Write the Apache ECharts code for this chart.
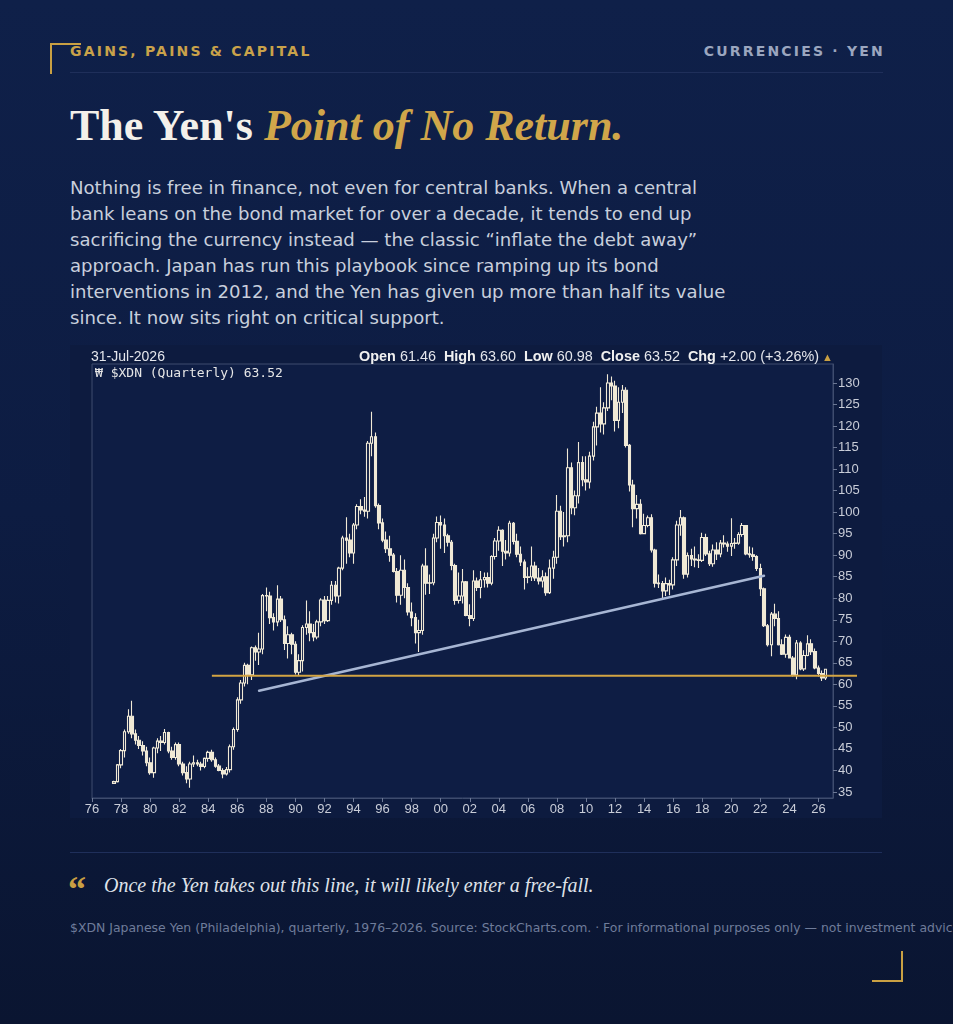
<!DOCTYPE html>
<html>
<head>
<meta charset="utf-8">
<script src="https://cdn.jsdelivr.net/npm/echarts@6.0.0/dist/echarts.min.js"></script>
<style>
  html, body { margin: 0; padding: 0; }
  body {
    width: 953px; height: 1024px; overflow: hidden; position: relative;
    background: linear-gradient(180deg, #0f2049 0%, #0d1c42 50%, #0a1531 100%);
    font-family: "DejaVu Sans", sans-serif;
  }
  .abs { position: absolute; }
  .corner-tl { left: 50px; top: 43px; width: 29px; height: 29px; border-top: 2px solid #c9a043; border-left: 2px solid #c9a043; }
  .corner-br { left: 872px; top: 951px; width: 29px; height: 29px; border-bottom: 2px solid #c9a043; border-right: 2px solid #c9a043; }
  .kicker { top: 43px; font-size: 14px; line-height: 17px; font-weight: bold; letter-spacing: 2.2px; white-space: nowrap; }
  .kicker.left { left: 70px; color: #c9a24a; }
  .kicker.right { right: 68px; color: #9ba6bf; }
  .rule { left: 70px; width: 813px; height: 1px; background: #1f2f5a; }
  .title { left: 70px; top: 104px; font-family: "Liberation Serif", serif; font-size: 44px; line-height: 44px; font-weight: bold; color: #f3f0ea; white-space: nowrap; }
  .title em { color: #d0a64a; font-style: italic; }
  .lede { left: 70px; top: 175px; font-size: 18.1px; line-height: 26px; color: #c8cfdc; white-space: nowrap; }
  #panel { left: 70px; top: 345px; width: 812px; height: 473px; background: #0d1b3f; }
  #chart { position: absolute; left: 0; top: 0; width: 812px; height: 473px; }
  .chead { font-family: "Liberation Sans", Arial, sans-serif; color: #e4e6ec; white-space: nowrap; }
  .date { left: 21px; top: 3px; font-size: 14px; line-height: 16px; }
  .ohlc { right: 49px; top: 3px; font-size: 14.4px; line-height: 16px; }
  .ohlc b { font-weight: bold; color: #f0f0f0; }
  .ohlc .g { margin-left: 8px; }
  .ohlc .tri { color: #c9a043; font-size: 11px; margin-left: 3px; }
  .legend { left: 25px; top: 20px; font-family: "DejaVu Sans Mono", monospace; font-size: 13px; line-height: 16px; color: #e6e6e6; white-space: nowrap; }
  .quote-mark { left: 68px; top: 871px; font-family: "Liberation Serif", serif; font-weight: bold; font-size: 36px; line-height: 36px; color: #c9a043; }
  .quote { left: 104px; top: 873px; font-family: "Liberation Serif", serif; font-style: italic; font-size: 20px; line-height: 24px; color: #dfe2e9; white-space: nowrap; }
  .source { left: 70px; top: 920px; font-size: 12.45px; line-height: 16px; color: #6f7c9a; white-space: nowrap; }
</style>
</head>
<body>
<div class="abs corner-tl"></div>
<div class="abs kicker left">GAINS, PAINS &amp; CAPITAL</div>
<div class="abs kicker right">CURRENCIES · YEN</div>
<div class="abs rule" style="top:72px"></div>
<div class="abs title">The Yen's <em>Point of No Return.</em></div>
<div class="abs lede">Nothing is free in finance, not even for central banks. When a central<br>bank leans on the bond market for over a decade, it tends to end up<br>sacrificing the currency instead — the classic “inflate the debt away”<br>approach. Japan has run this playbook since ramping up its bond<br>interventions in 2012, and the Yen has given up more than half its value<br>since. It now sits right on critical support.</div>

<div class="abs" id="panel">
  <div id="chart"></div>
  <div class="abs chead date">31-Jul-2026</div>
  <div class="abs chead ohlc"><b>Open</b> 61.46<span class="g"><b>High</b> 63.60</span><span class="g"><b>Low</b> 60.98</span><span class="g"><b>Close</b> 63.52</span><span class="g"><b>Chg</b> +2.00 (+3.26%)</span><span class="tri">▲</span></div>
  <div class="abs legend">₩ $XDN (Quarterly) 63.52</div>
</div>

<div class="abs rule" style="top:852px; width:812px"></div>
<div class="abs quote-mark">“</div>
<div class="abs quote">Once the Yen takes out this line, it will likely enter a free-fall.</div>
<div class="abs source">$XDN Japanese Yen (Philadelphia), quarterly, 1976–2026. Source: StockCharts.com. · For informational purposes only — not investment advice</div>
<div class="abs corner-br"></div>

<script>
// ---------- DATA ----------
const axisFirstYear = 1976;          // x axis runs 1976Q1 ...
const axisLastYear = 2027;           // ... to 2027Q1
const firstCandle = '1977Q3';        // first quarterly candle

// quarterly OHLC, 1977Q3 .. 2026Q3
const opens = [
  37.0, 37.4,                       // 1977 Q3-Q4
  41.3, 44.6, 49.0, 52.6,           // 1978
  48.5, 47.0, 45.8, 44.5,           // 1979
  41.8, 39.5, 45.2, 46.8,           // 1980
  46.5, 48.8, 44.5, 43.0,           // 1981
  46.0, 41.5, 39.5, 38.0,           // 1982
  41.5, 41.8, 41.5, 40.9,           // 1983
  42.8, 44.2, 42.5, 41.0,           // 1984
  40.0, 39.2, 40.2, 45.5,           // 1985
  49.5, 56.4, 60.3, 64.4,           // 1986
  62.2, 68.5, 67.5, 68.2,           // 1987
  80.6, 80.5, 75.5, 74.5,           // 1988
  79.8, 75.0, 69.5, 71.5,           // 1989
  69.3, 62.8, 65.5, 73.2,           // 1990
  74.0, 72.0, 71.0, 74.5,           // 1991
  79.6, 74.8, 79.5, 83.0,           // 1992
  80.5, 87.0, 94.0, 93.5,           // 1993
  90.5, 97.0, 101.3, 100.5,         // 1994
  100.2, 116.0, 117.5, 101.5,       // 1995
  97.5, 93.5, 91.5, 90.0,           // 1996
  86.2, 80.7, 86.5, 82.5,           // 1997
  76.8, 75.5, 72.0, 72.5,           // 1998
  87.5, 83.5, 83.6, 94.0,           // 1999
  97.6, 97.0, 94.5, 93.0,           // 2000
  87.6, 79.5, 80.5, 83.8,           // 2001
  76.0, 75.3, 84.0, 82.5,           // 2002
  84.3, 84.8, 83.5, 89.7,           // 2003
  93.3, 95.8, 90.9, 90.5,           // 2004
  97.4, 93.2, 90.2, 88.4,           // 2005
  84.8, 85.0, 87.5, 84.7,           // 2006
  84.0, 85.0, 81.3, 87.0,           // 2007
  89.5, 100.2, 94.3, 94.5,          // 2008
  110.3, 101.0, 103.8, 111.5,       // 2009
  107.5, 107.0, 113.0, 119.8,       // 2010
  123.0, 120.5, 124.2, 130.0,       // 2011
  129.3, 121.3, 125.5, 128.3,       // 2012
  115.5, 106.3, 100.8, 101.8,       // 2013
  95.0, 96.9, 98.7, 91.2,           // 2014
  83.5, 83.4, 81.7, 83.4,           // 2015
  83.1, 88.9, 97.0, 98.7,           // 2016
  85.6, 89.9, 89.1, 88.9,           // 2017
  88.8, 94.1, 90.3, 88.0,           // 2018
  91.2, 90.3, 92.8, 92.6,           // 2019
  92.1, 92.7, 92.8, 94.8,           // 2020
  96.9, 90.3, 90.1, 89.7,           // 2021
  86.9, 82.2, 73.6, 69.2,           // 2022
  76.3, 75.3, 69.2, 67.0,           // 2023
  70.9, 66.1, 62.2, 69.6,           // 2024
  63.6, 66.7, 69.4, 67.6,           // 2025
  63.8, 62.5, 61.46                 // 2026 Q1-Q3
];
const highs = [
  37.6, 41.5,
  45.0, 49.5, 54.2, 56.2,
  49.5, 48.0, 46.8, 45.5,
  43.0, 45.5, 47.5, 48.0,
  49.6, 49.0, 45.5, 46.5,
  46.5, 42.0, 41.0, 42.0,
  43.5, 42.5, 42.0, 43.0,
  44.6, 44.8, 43.0, 41.5,
  40.5, 40.8, 46.0, 50.0,
  57.0, 61.0, 65.0, 64.8,
  68.8, 69.0, 72.0, 81.0,
  82.5, 81.5, 76.5, 83.0,
  80.5, 76.0, 73.5, 72.0,
  70.0, 67.0, 73.7, 79.5,
  77.0, 74.0, 75.0, 80.0,
  80.5, 80.5, 84.0, 84.0,
  87.3, 94.5, 98.8, 95.0,
  97.5, 101.8, 103.0, 103.5,
  116.5, 123.3, 118.5, 102.0,
  98.5, 95.5, 94.5, 90.5,
  87.0, 90.0, 89.0, 83.5,
  79.0, 76.5, 75.0, 88.0,
  91.6, 85.5, 95.0, 99.0,
  99.2, 98.5, 95.0, 93.5,
  88.0, 86.0, 86.8, 84.0,
  78.6, 86.5, 84.8, 86.3,
  86.0, 86.0, 90.0, 94.0,
  96.7, 96.0, 93.5, 98.0,
  97.7, 95.0, 92.0, 89.0,
  87.2, 92.0, 88.5, 87.0,
  86.5, 86.0, 89.0, 91.0,
  104.0, 101.5, 100.0, 114.8,
  111.5, 105.0, 116.3, 113.0,
  113.0, 114.0, 121.0, 124.5,
  129.0, 125.5, 132.0, 131.5,
  130.5, 129.0, 129.5, 129.0,
  115.8, 107.5, 104.0, 103.0,
  99.6, 99.2, 99.5, 91.5,
  85.5, 84.0, 84.8, 84.3,
  89.5, 98.0, 100.5, 99.0,
  90.6, 91.5, 92.0, 90.2,
  95.2, 95.0, 91.0, 92.5,
  93.0, 93.5, 94.6, 93.2,
  98.6, 94.0, 95.3, 97.5,
  97.0, 92.0, 91.8, 90.0,
  88.0, 82.5, 74.0, 76.8,
  78.7, 77.0, 70.5, 71.6,
  71.5, 66.6, 70.3, 70.0,
  67.9, 71.4, 70.5, 68.3,
  64.4, 63.2, 63.60
];
const lows = [
  36.9, 37.2,
  40.5, 43.0, 48.5, 47.5,
  46.0, 45.0, 43.5, 41.0,
  39.0, 38.3, 44.0, 44.5,
  46.0, 44.0, 42.5, 42.5,
  41.0, 38.8, 37.0, 36.0,
  40.8, 41.0, 40.0, 40.5,
  42.0, 42.0, 40.6, 39.8,
  38.2, 38.8, 39.5, 44.8,
  49.0, 55.5, 59.5, 60.0,
  61.0, 65.5, 64.5, 67.0,
  77.0, 74.0, 72.5, 73.5,
  74.5, 68.0, 66.0, 67.0,
  62.3, 62.0, 63.0, 71.5,
  70.0, 70.0, 70.5, 73.5,
  74.0, 74.5, 78.5, 79.0,
  78.8, 86.5, 88.0, 89.5,
  88.0, 96.0, 99.5, 98.9,
  98.5, 113.0, 101.0, 96.0,
  93.0, 90.5, 88.5, 86.0,
  79.0, 78.5, 80.0, 76.0,
  73.5, 69.5, 67.5, 71.5,
  80.8, 81.0, 83.0, 93.0,
  91.5, 90.5, 92.0, 86.5,
  78.5, 78.8, 78.8, 75.8,
  73.5, 74.7, 81.7, 80.0,
  82.5, 82.5, 83.0, 89.0,
  91.0, 87.5, 89.0, 89.7,
  92.5, 89.5, 87.5, 82.0,
  83.5, 84.0, 84.0, 83.2,
  82.5, 80.6, 81.0, 84.5,
  88.0, 93.5, 92.0, 93.0,
  99.5, 99.3, 102.0, 106.0,
  105.0, 105.5, 112.0, 115.5,
  118.5, 118.0, 123.5, 126.0,
  118.7, 119.5, 123.0, 115.0,
  104.8, 96.5, 98.5, 94.8,
  95.0, 96.5, 90.6, 82.5,
  82.4, 80.0, 80.5, 80.7,
  82.0, 87.5, 94.5, 84.5,
  84.8, 87.5, 87.2, 87.0,
  88.4, 89.8, 87.5, 87.3,
  88.9, 89.5, 91.8, 90.8,
  89.8, 91.5, 92.4, 94.3,
  90.0, 89.4, 88.7, 86.3,
  80.5, 73.3, 68.8, 66.5,
  73.5, 69.0, 66.8, 66.2,
  66.0, 61.8, 61.2, 63.3,
  63.1, 66.5, 66.8, 63.5,
  61.8, 60.8, 60.98
];
const closes = [
  37.4, 41.3,
  44.6, 49.0, 52.6, 48.5,
  47.0, 45.8, 44.5, 41.8,
  39.5, 45.2, 46.8, 46.5,
  48.8, 44.5, 43.0, 46.0,
  41.5, 39.5, 38.0, 41.5,
  41.8, 41.5, 40.9, 42.8,
  44.2, 42.5, 41.0, 40.0,
  39.2, 40.2, 45.5, 49.5,
  56.4, 60.3, 64.4, 62.2,
  68.5, 67.5, 68.2, 80.6,
  80.5, 75.5, 74.5, 79.8,
  75.0, 69.5, 71.5, 69.3,
  62.8, 65.5, 73.2, 74.0,
  72.0, 71.0, 74.5, 79.6,
  74.8, 79.5, 83.0, 80.5,
  87.0, 94.0, 93.5, 90.5,
  97.0, 101.3, 100.5, 100.2,
  116.0, 117.5, 101.5, 97.5,
  93.5, 91.5, 90.0, 86.2,
  80.7, 86.5, 82.5, 76.8,
  75.5, 72.0, 72.5, 87.5,
  83.5, 83.6, 94.0, 97.6,
  97.0, 94.5, 93.0, 87.6,
  79.5, 80.5, 83.8, 76.0,
  75.3, 84.0, 82.5, 84.3,
  84.8, 83.5, 89.7, 93.3,
  95.8, 90.9, 90.5, 97.4,
  93.2, 90.2, 88.4, 84.8,
  85.0, 87.5, 84.7, 84.0,
  85.0, 81.3, 87.0, 89.5,
  100.2, 94.3, 94.5, 110.3,
  101.0, 103.8, 111.5, 107.5,
  107.0, 113.0, 119.8, 123.0,
  120.5, 124.2, 130.0, 129.3,
  121.3, 125.5, 128.3, 115.5,
  106.3, 100.8, 101.8, 95.0,
  96.9, 98.7, 91.2, 83.5,
  83.4, 81.7, 83.4, 83.1,
  88.9, 97.0, 98.7, 85.6,
  89.9, 89.1, 88.9, 88.8,
  94.1, 90.3, 88.0, 91.2,
  90.3, 92.8, 92.6, 92.1,
  92.7, 92.8, 94.8, 96.9,
  90.3, 90.1, 89.7, 86.9,
  82.2, 73.6, 69.2, 76.3,
  75.3, 69.2, 67.0, 70.9,
  66.1, 62.2, 69.6, 63.6,
  66.7, 69.4, 67.6, 63.8,
  62.5, 61.46, 63.52
];

const yTicks = [35, 40, 45, 50, 55, 60, 65, 70, 75, 80, 85, 90, 95, 100, 105, 110, 115, 120, 125, 130];
const yRange = [33.6, 134.4];

// annotation lines
const supportLevel = 62.0;
const supportStart = '1984Q2';
const trendLine = [['1987Q3', 58.5], ['2022Q2', 85.2]];

// ---------- BUILD ----------
const quarters = [];
for (let y = axisFirstYear; y <= axisLastYear; y++) {
  for (let q = 1; q <= 4; q++) {
    if (y === axisLastYear && q > 1) break;
    quarters.push(y + 'Q' + q);
  }
}
const startIdx = quarters.indexOf(firstCandle);
const candleData = quarters.map((_, i) => {
  const k = i - startIdx;
  if (k < 0 || k >= closes.length) return '-';
  return [opens[k], closes[k], lows[k], highs[k]];
});

const cream = '#f0e9d6';
const plotBg = '#0e1d44';
const frame = '#3e4c6e';
const labelColor = '#c9cdd8';

const chart = echarts.init(document.getElementById('chart'), null, { renderer: 'canvas' });
chart.setOption({
  animation: false,
  backgroundColor: 'transparent',
  grid: { left: 22, top: 19, right: 49, bottom: 20, show: true, backgroundColor: plotBg, borderColor: frame, borderWidth: 1 },
  xAxis: {
    type: 'category',
    data: quarters,
    boundaryGap: false,
    axisLine: { show: true, lineStyle: { color: frame } },
    axisTick: { show: true, length: 4, lineStyle: { color: '#6c7895' }, interval: (i) => i % 8 === 0 },
    axisLabel: {
      interval: (i) => i % 8 === 0,
      formatter: (v) => v.slice(2, 4),
      color: labelColor, fontFamily: 'Liberation Sans, Arial, sans-serif', fontSize: 13, margin: 5
    },
    splitLine: { show: false }
  },
  yAxis: {
    type: 'value',
    position: 'right',
    min: yRange[0], max: yRange[1],
    axisLine: { show: true, lineStyle: { color: frame } },
    axisTick: { show: true, length: 4, customValues: yTicks, lineStyle: { color: '#6c7895' } },
    axisLabel: { customValues: yTicks, color: labelColor, fontFamily: 'Liberation Sans, Arial, sans-serif', fontSize: 13, margin: 5 },
    splitLine: { show: false }
  },
  series: [{
    type: 'candlestick',
    data: candleData,
    barWidth: 3.0,
    itemStyle: { color: plotBg, color0: cream, borderColor: cream, borderColor0: cream, borderWidth: 1.1 }
  }]
});

// annotation lines placed through the chart's own scales
const grid = chart.getModel().getComponent('grid', 0).coordinateSystem.getRect();
const sA = chart.convertToPixel({ gridIndex: 0 }, [supportStart, supportLevel]);
const tA = chart.convertToPixel({ gridIndex: 0 }, trendLine[0]);
const tB = chart.convertToPixel({ gridIndex: 0 }, trendLine[1]);
chart.setOption({
  graphic: [
    { type: 'line', z: 100, shape: { x1: tA[0], y1: tA[1], x2: tB[0], y2: tB[1] }, style: { stroke: '#a7b6d4', lineWidth: 2.5, lineCap: 'round' } },
    { type: 'line', z: 101, shape: { x1: sA[0], y1: sA[1], x2: grid.x + grid.width + 24, y2: sA[1] }, style: { stroke: '#d3a443', lineWidth: 2 } }
  ]
});
</script>
</body>
</html>
